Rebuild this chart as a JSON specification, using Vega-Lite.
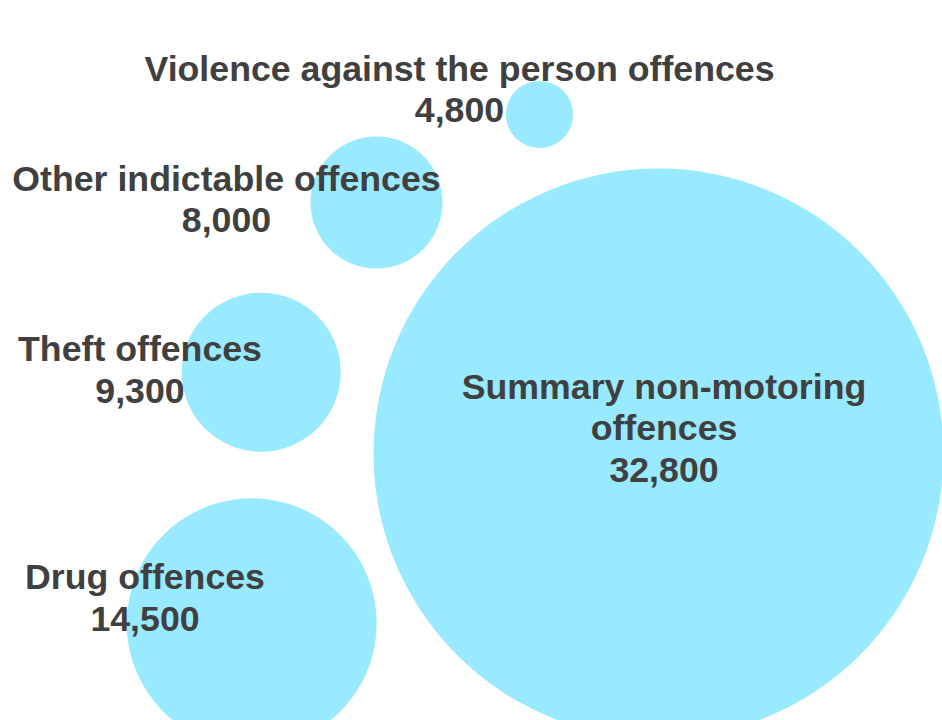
{
  "$schema": "https://vega.github.io/schema/vega-lite/v6.json",
  "width": 942,
  "height": 720,
  "autosize": {"type": "none"},
  "padding": 0,
  "background": "white",
  "config": {"view": {"stroke": null}},
  "data": {
    "values": [
      {"offence": "Violence against the person offences", "value": 4800, "bx": 539.5, "by": 114.5, "lx": 459.5, "ly": 69.5},
      {"offence": "Other indictable offences", "value": 8000, "bx": 376.5, "by": 202.5, "lx": 226.5, "ly": 179.5},
      {"offence": "Theft offences", "value": 9300, "bx": 261.2, "by": 372.2, "lx": 140, "ly": 350},
      {"offence": "Summary non-motoring\noffences", "value": 32800, "bx": 658.5, "by": 453.5, "lx": 664, "ly": 387.5},
      {"offence": "Drug offences", "value": 14500, "bx": 251.7, "by": 623.3, "lx": 145, "ly": 578}
    ]
  },
  "layer": [
    {
      "mark": {"type": "point", "shape": "circle", "filled": true, "opacity": 1, "color": "#99E9FF", "strokeWidth": 0},
      "encoding": {
        "x": {"field": "bx", "type": "quantitative", "scale": {"domain": [0, 942], "nice": false, "zero": false}, "axis": null},
        "y": {"field": "by", "type": "quantitative", "scale": {"domain": [0, 720], "nice": false, "zero": false, "reverse": true}, "axis": null},
        "size": {
          "field": "value",
          "type": "quantitative",
          "scale": {"type": "linear", "domain": [4800, 8000, 9300, 14500, 32800], "range": [4516, 17424, 25281, 62500, 324900]},
          "legend": null
        }
      }
    },
    {
      "transform": [{"calculate": "datum.offence + '\\n' + format(datum.value, ',')", "as": "label"}],
      "mark": {
        "type": "text",
        "font": "Liberation Sans",
        "fontSize": 35.7,
        "fontWeight": "bold",
        "color": "#404040",
        "lineBreak": "\n",
        "lineHeight": 41.5,
        "align": "center",
        "baseline": "middle"
      },
      "encoding": {
        "x": {"field": "lx", "type": "quantitative", "axis": null},
        "y": {"field": "ly", "type": "quantitative", "axis": null},
        "text": {"field": "label", "type": "nominal"}
      }
    }
  ]
}
